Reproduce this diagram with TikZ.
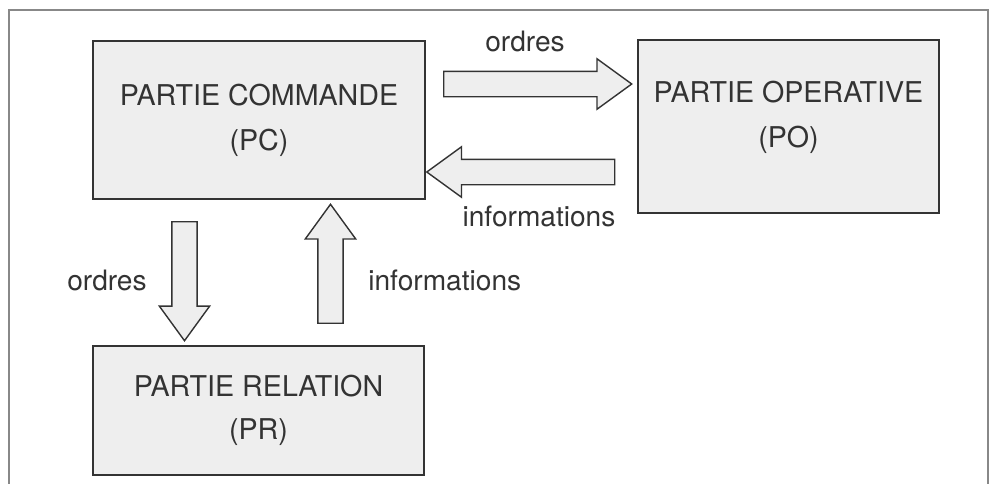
\documentclass[tikz,border=0pt]{standalone}
\usepackage{fontspec}
\setmainfont{TeX Gyre Heros}
\usetikzlibrary{shapes.arrows}

\definecolor{boxgray}{HTML}{EEEEEE}
\definecolor{inkgray}{HTML}{333333}
\definecolor{framegray}{HTML}{888888}

\begin{document}
\begin{tikzpicture}[x=0.02cm, y=-0.02cm,
    bloc/.style={rectangle, draw=inkgray, line width=0.9pt, fill=boxgray, align=center, text=inkgray, font=\fontsize{16.3}{19.5}\selectfont},
    fleche/.style={single arrow, draw=inkgray, line width=0.8pt, fill=boxgray, inner sep=0.24cm, single arrow head extend=0.25cm, single arrow tip angle=72, minimum height=3.76cm},
    etiq/.style={text=inkgray, font=\fontsize{16}{19}\selectfont, inner sep=0pt}
]
\useasboundingbox (0,0) rectangle (992,484);
\draw[framegray, line width=0.6pt] (9,484) -- (9,10) -- (988,10) -- (988,484);

% les trois parties
\node[bloc, minimum width=6.64cm, minimum height=3.16cm] (pc) at (259,120) {PARTIE COMMANDE\\[6pt](PC)};
\node[bloc, minimum width=6.02cm, minimum height=3.46cm] (po) at (788.5,126.5) {};
\node[bloc, draw=none, fill=none] (potexte) at ([yshift=0.18cm]po.center) {PARTIE OPERATIVE\\[6pt](PO)};
\node[bloc, minimum width=6.62cm, minimum height=2.58cm] (pr) at (258.5,410.5) {PARTIE RELATION\\[5pt](PR)};

% fleches PC <-> PO
\node[fleche] (ordpo) at (529,84) {};
\node[fleche, shape border rotate=180] (infpc) at (529.5,172) {};
\node[etiq, anchor=base] (lordpo) at (525,51) {ordres};
\node[etiq, anchor=base] (linfpc) at (539,226) {informations};

% fleches PC <-> PR
\node[fleche, shape border rotate=270, minimum height=2.38cm] (ordpr) at (184.5,272.5) {};
\node[fleche, shape border rotate=90, minimum height=2.38cm] (infpr) at (330.5,272.5) {};
\node[etiq, anchor=base east] (lordpr) at (147,290) {ordres};
\node[etiq, anchor=base west] (linfpr) at (368,290) {informations};
\end{tikzpicture}
\end{document}
